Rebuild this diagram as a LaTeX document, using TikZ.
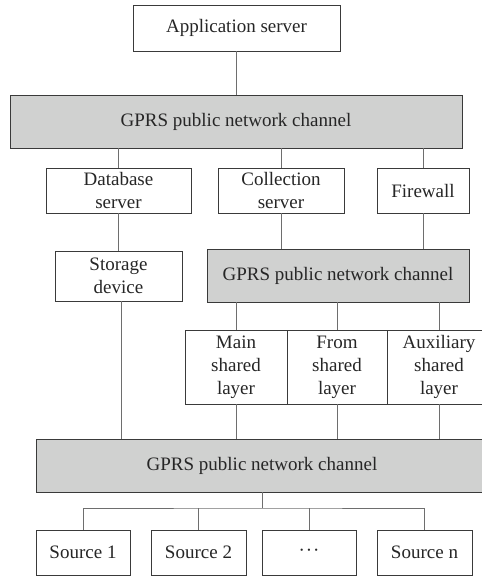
\documentclass[tikz,border=0pt]{standalone}
\usepackage{fontspec}
\setmainfont{Liberation Serif}
\definecolor{boxline}{HTML}{3A3A3A}
\definecolor{linkc}{HTML}{6E6E6E}
\definecolor{chanfill}{HTML}{D0D1D0}
\begin{document}
\begin{tikzpicture}[x=1pt,y=-1pt,
  box/.style={draw=boxline, line width=0.9pt, fill=white, inner sep=0pt,
    align=center, font=\fontsize{19}{23}\selectfont, text=black!85},
  chan/.style={box, fill=chanfill},
  link/.style={draw=linkc, line width=0.9pt}]
\useasboundingbox (0,0) rectangle (482,576);
\begin{scope}
\clip (0,0) rectangle (482,576);
% top level
\node[box, minimum width=207, minimum height=46] (app) at (236.5,28) {Application server};
\node[chan, minimum width=452, minimum height=53] (g1) at (236,121.5) {GPRS public network channel};
% servers
\node[box, minimum width=145, minimum height=45] (db) at (118.5,190.5) {Database\\server};
\node[box, minimum width=126, minimum height=45] (coll) at (281,190.5) {Collection\\server};
\node[box, minimum width=92, minimum height=45] (fw) at (423,190.5) {Firewall};
% storage and inner channel
\node[box, minimum width=127, minimum height=50] (stor) at (118.5,276) {Storage\\device};
\node[chan, minimum width=262, minimum height=53] (g2) at (338,275.5) {GPRS public network channel};
% shared layers
\node[box, minimum width=102, minimum height=74] (main) at (236,367) {Main\\shared\\layer};
\node[box, minimum width=100, minimum height=74] (from) at (337,367) {From\\shared\\layer};
\node[box, minimum width=104, minimum height=74] (aux) at (439,367) {Auxiliary\\shared\\layer};
% bottom channel
\node[chan, minimum width=452, minimum height=53] (g3) at (262,465.5) {GPRS public network channel};
% sources
\node[box, minimum width=94, minimum height=45] (s1) at (83,552.5) {Source 1};
\node[box, minimum width=95, minimum height=45] (s2) at (198.5,552.5) {Source 2};
\node[box, minimum width=94, minimum height=45] (s3) at (309,552.5) {\raisebox{-3pt}{\char"00B7\kern1pt\char"00B7\kern1pt\char"00B7}};
\node[box, minimum width=95, minimum height=45] (sn) at (424.5,552.5) {Source n};
\coordinate (bus) at (262,508);
% connectors
\draw[link] (app.south) -- (app.south |- g1.north);
\draw[link] (118,148) coordinate (a1) -- (a1 |- db.north);
\draw[link] (coll.north) -- (coll.north |- g1.south);
\draw[link] (fw.north) -- (fw.north |- g1.south);
\draw[link] (118,213) coordinate (a2) -- (a2 |- stor.north);
\draw[link] (coll.south) -- (coll.south |- g2.north);
\draw[link] (fw.south) -- (fw.south |- g2.north);
\draw[link] (121,301) coordinate (a3) -- (a3 |- g3.north);
\draw[link] (main.north) -- (main.north |- g2.south);
\draw[link] (from.north) -- (from.north |- g2.south);
\draw[link] (aux.north) -- (aux.north |- g2.south);
\draw[link] (main.south) -- (main.south |- g3.north);
\draw[link] (from.south) -- (from.south |- g3.north);
\draw[link] (aux.south) -- (aux.south |- g3.north);
\draw[link] (bus |- g3.south) -- (bus);
\draw[link] (s1.north) |- (bus) -| (sn.north);
\draw[link] (s2.north) -- (s2.north |- bus);
\draw[link] (s3.north) -- (s3.north |- bus);
\end{scope}
\end{tikzpicture}
\end{document}
